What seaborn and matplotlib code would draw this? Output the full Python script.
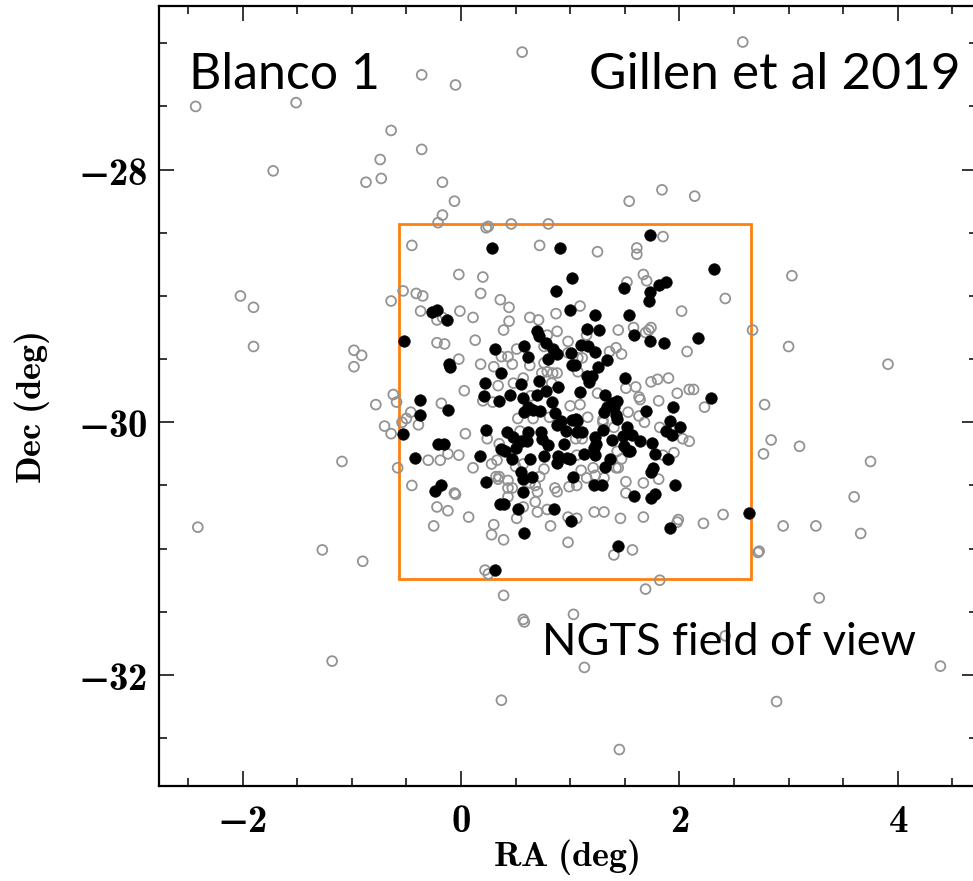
import matplotlib
matplotlib.use("Agg")
import matplotlib.pyplot as plt
from matplotlib.patches import Rectangle
from matplotlib.ticker import MultipleLocator, FuncFormatter
import seaborn as sns

# Field stars around Blanco 1 (open grey circles): RA offset and Dec in degrees
field_ra = [
    0.56, -0.36, -0.05, -2.43, -1.51, -0.64, -0.36, -0.74, -1.72, -0.87, -0.73, -0.17, -0.06, -0.17, -0.21,
    0.25, 0.23, 0.46, 0.80, 2.58, 1.54, 1.84, 2.14,
    -2.02, -1.90, -1.90, -0.53, -0.64, -0.98, -0.91, -0.98, -0.62, -0.59, -0.78, -0.50, -0.54, -0.70, -0.64,
    -1.09, -0.58, -2.41, -1.27, -0.90,
    -0.46, -0.39, -0.18, 0.20, 0.29, 0.04, 0.24, 0.52, 0.54, 0.66, 1.00, 0.81, -0.30, -0.19, -0.12, -0.02,
    0.11, 0.28, 0.33, 0.35, 0.50, 0.57, 0.32, 0.35, 0.34, 0.43, 0.47, 0.43, 0.43, 0.58, 0.63, 0.68, 0.72,
    0.76, 0.70, 0.86, 0.88, 0.99, -0.45, -0.06, -0.05, -0.22, -0.12, 0.07, -0.25, 0.30, 0.28, 0.39, 0.51,
    0.57, 0.68, 0.70, 0.79, 0.82, 0.98, 0.98, 0.22, 0.25,
    -0.45, 0.72, -0.02, 0.20, -0.41, -0.35, 0.18, 0.36, 0.44, -0.37, -0.17, -0.22, -0.01, 0.11, 0.44, 0.39,
    0.63, 0.71, 0.87, 0.88, 0.79, -0.22, -0.15, 0.13, -0.02, 0.18, 0.30, 0.37, 0.43, 0.51, 0.47, 0.63, 0.76,
    0.98, 0.98, 0.74, 0.79, 0.84, 0.88, 0.76, 0.34, 0.48, 0.57, 0.03, 0.64, 0.83,
    1.85, 1.25, 1.61, 1.61, 1.67, 1.70, 1.52, 2.42, 2.02, 1.09, 1.44, 1.58, 1.69, 1.72, 1.74, 2.67, 1.15,
    1.42, 1.47, 2.07, 1.36, 1.11, 1.07, 1.07, 1.74, 1.80, 1.90, 1.60, 1.51, 1.25, 1.98, 2.09, 2.13, 1.63, 1.81,
    1.09, 1.16, 1.30, 1.30, 1.40, 1.53, 1.63, 1.68, 1.64, 2.23, 1.82, 2.03, 2.09, 1.95, 1.85, 1.43, 1.47,
    1.42, 1.44, 1.05, 1.11, 1.06, 1.21, 1.23, 1.31, 1.15, 1.10, 1.06, 1.51, 1.67, 1.81, 1.51, 1.22, 1.31,
    1.06, 1.46, 1.67, 1.99, 1.98, 2.22, 2.40, 1.57, 1.40, 1.82,
    3.03, 3.00, 3.91, 2.78, 2.84, 2.77, 3.10, 3.75, 3.60, 2.95, 3.25, 3.66, 2.73, 2.72,
    0.39, 0.57, 0.58, -1.18, 0.37, 1.69, 3.28, 1.03, 2.42, 1.13, 4.39, 2.89, 1.45,
]
field_dec = [
    -27.07, -27.25, -27.33, -27.50, -27.47, -27.69, -27.84, -27.92, -28.01, -28.10, -28.07, -28.10, -28.25,
    -28.36, -28.42, -28.45, -28.46, -28.43, -28.43, -26.99, -28.25, -28.16, -28.21,
    -29.00, -29.09, -29.40, -28.96, -29.04, -29.43, -29.47, -29.56, -29.78, -29.84, -29.86, -29.97, -30.00,
    -30.03, -30.09, -30.31, -30.36, -30.83, -31.01, -31.10,
    -29.92, -30.02, -29.85, -29.83, -29.84, -30.09, -30.13, -29.97, -30.07, -29.97, -29.87, -29.96, -30.30,
    -30.30, -30.25, -30.26, -30.36, -30.33, -30.30, -30.17, -30.35, -30.33, -30.43, -30.43, -30.45, -30.46,
    -30.52, -30.52, -30.59, -30.45, -30.48, -30.50, -30.43, -30.37, -30.55, -30.52, -30.55, -30.51, -30.50,
    -30.56, -30.57, -30.67, -30.70, -30.75, -30.82, -30.81, -30.89, -30.93, -30.76, -30.67, -30.63, -30.71,
    -30.69, -30.82, -30.75, -30.95, -31.17, -31.20,
    -28.60, -28.60, -28.83, -28.85, -28.98, -29.00, -28.98, -29.03, -29.09, -29.12, -29.17, -29.19, -29.12,
    -29.17, -29.20, -29.27, -29.17, -29.19, -29.14, -29.28, -29.31, -29.37, -29.38, -29.35, -29.50, -29.54,
    -29.56, -29.48, -29.48, -29.42, -29.54, -29.55, -29.40, -29.36, -29.45, -29.61, -29.60, -29.61, -29.61,
    -29.53, -29.71, -29.69, -29.65, -29.75, -29.79, -29.69,
    -28.53, -28.65, -28.62, -28.67, -28.83, -28.88, -28.89, -29.02, -29.12, -29.08, -29.27, -29.25, -29.29,
    -29.27, -29.25, -29.27, -29.31, -29.41, -29.46, -29.44, -29.44, -29.49, -29.49, -29.60, -29.68, -29.66,
    -29.65, -29.72, -29.73, -29.77, -29.77, -29.74, -29.74, -29.80, -29.83,
    -29.86, -29.96, -29.98, -30.00, -30.04, -29.92, -29.95, -30.00, -29.82, -29.88, -30.04, -30.13, -30.15,
    -30.24, -30.26, -30.23, -30.29, -30.36, -30.36, -30.13, -30.13, -30.26, -30.36, -30.42, -30.44, -30.44,
    -30.38, -30.50, -30.47, -30.48, -30.45, -30.56, -30.71, -30.71, -30.76, -30.76, -30.75, -30.77, -30.79,
    -30.80, -30.73, -31.01, -31.05, -31.25,
    -28.84, -29.40, -29.54, -29.86, -30.14, -30.25, -30.19, -30.31, -30.59, -30.82, -30.82, -30.88, -31.02,
    -31.03,
    -31.37, -31.56, -31.58, -31.89, -32.20, -31.32, -31.39, -31.52, -31.69, -31.94, -31.93, -32.21, -32.59,
]

# Cluster members (filled black points)
member_ra = [
    -0.52, -0.53, 2.64, 0.28, 0.91, 1.02, 0.87, 1.00, -0.27, -0.22, -0.13, 0.70, 0.71, 0.78, 0.31, 0.58,
    0.61, 0.80, 0.84, 0.88, 1.01, 1.02, -0.11, -0.10, 0.37, 0.22, 0.55, 0.71, 0.89, 0.70, 0.78, 0.45, 0.21,
    0.57, 0.35, -0.38,
    1.73, 2.32, 1.49, 1.81, 1.88, 1.73, 1.72, 1.23, 1.54, 1.15, 1.26, 1.58, 1.73, 1.86, 2.17, 1.10, 1.16,
    1.23, 1.34, 1.04, 1.25, 1.15, 1.20, 1.17, 1.50, 1.09, 1.32, 2.29, 1.43,
    -0.38, -0.12, -0.21, -0.16, -0.42, 0.17, 0.23, 0.42, 0.48, 0.37, 0.40, 0.50, 0.47, 0.56, 0.61, 0.60,
    0.58, 0.61, 0.66, 0.72, 0.63, 0.73, 0.74, 0.80, 0.76, 0.86, 0.88, 0.92, 0.83, 0.96, 0.94, 1.02, 0.89,
    0.88, 0.97, 1.00, 0.55, 0.57, 0.65, 0.23, -0.24, -0.18, 0.57, 0.36, 0.39, 0.52, 0.85, 1.01, 0.58, 1.03,
    0.31,
    1.38, 1.40, 1.34, 1.31, 1.42, 1.43, 1.69, 1.94, 1.05, 1.06, 1.11, 1.06, 1.30, 1.23, 1.24, 1.22, 1.38,
    1.48, 1.52, 1.57, 1.64, 1.75, 1.49, 1.53, 1.55, 1.13, 1.23, 1.78, 1.91, 2.01, 1.88, 1.93, 1.90, 1.36,
    1.32, 1.76, 1.74, 1.22, 1.29, 1.58, 1.78, 1.74, 1.96, 1.91, 1.44,
]
member_dec = [
    -29.36, -30.09, -30.72, -28.62, -28.62, -28.86, -28.96, -29.11, -29.13, -29.11, -29.19, -29.28, -29.32,
    -29.37, -29.42, -29.40, -29.48, -29.50, -29.42, -29.46, -29.45, -29.55, -29.54, -29.56, -29.61, -29.69,
    -29.70, -29.67, -29.72, -29.78, -29.75, -29.78, -29.79, -29.81, -29.83, -29.82,
    -28.52, -28.79, -28.94, -28.91, -28.89, -28.97, -29.04, -29.15, -29.15, -29.26, -29.27, -29.31, -29.36,
    -29.37, -29.33, -29.39, -29.40, -29.44, -29.51, -29.55, -29.56, -29.63, -29.63, -29.68, -29.65, -29.76,
    -29.78, -29.81, -29.83,
    -29.94, -29.90, -30.17, -30.17, -30.28, -30.27, -30.06, -30.08, -30.12, -30.21, -30.23, -30.20, -30.29,
    -30.15, -30.08, -30.15, -29.92, -29.88, -29.90, -29.91, -30.29, -30.08, -30.13, -30.18, -30.27, -29.93,
    -30.02, -29.99, -29.84, -30.07, -30.17, -29.98, -30.27, -30.32, -30.28, -30.29, -30.39, -30.45, -30.43,
    -30.47, -30.54, -30.50, -30.55, -30.65, -30.65, -30.69, -30.69, -30.78, -30.88, -30.43, -31.17,
    -29.85, -29.88, -29.88, -29.92, -29.94, -29.97, -29.91, -29.88, -29.97, -29.99, -30.08, -30.08, -30.06,
    -30.12, -30.17, -30.20, -30.14, -30.11, -30.04, -30.10, -30.15, -30.16, -30.19, -30.23, -30.23, -30.25,
    -30.26, -30.25, -29.99, -30.04, -30.07, -30.10, -30.29, -30.29, -30.35, -30.36, -30.39, -30.50, -30.50,
    -30.58, -30.57, -30.60, -30.50, -30.84, -30.98,
]

# NGTS field of view footprint (RA and Dec limits, degrees)
fov_ra = [-0.57, 2.66]
fov_dec = [-31.24, -28.43]

ra_limits = [-2.77, 4.725]
dec_limits = [-32.876, -26.705]

sns.set_style("ticks")
plt.rcParams.update({
    # bold Computer Modern for all math text; bold STIX supplies the minus sign
    "mathtext.fontset": "custom",
    "mathtext.rm": "cmb10",
    "mathtext.bf": "cmb10",
    "mathtext.it": "cmb10",
    "mathtext.default": "bf",
    "mathtext.fallback": "stix",
    "axes.linewidth": 1.6,
    "axes.edgecolor": "black",
    "text.color": "black",
    "axes.labelcolor": "black",
    "xtick.color": "black",
    "ytick.color": "black",
})

fig = plt.figure(figsize=(9.73, 8.81), dpi=100)
ax = fig.add_axes([0.1629, 0.1082, 0.8412, 0.8850])

ax.add_patch(Rectangle((fov_ra[0], fov_dec[0]), fov_ra[1] - fov_ra[0], fov_dec[1] - fov_dec[0],
                       fill=False, edgecolor="#ff7f0e", linewidth=2.0, zorder=2))

sns.scatterplot(x=field_ra, y=field_dec, ax=ax, s=50, marker="o", facecolor="none",
                edgecolor="#939393", color="#939393", linewidth=1.3, zorder=3)
sns.scatterplot(x=member_ra, y=member_dec, ax=ax, s=72, marker="o", color="black",
                edgecolor="black", linewidth=0.3, zorder=4)

ax.set_xlim(*ra_limits)
ax.set_ylim(*dec_limits)

ax.xaxis.set_major_locator(MultipleLocator(2))
ax.xaxis.set_minor_locator(MultipleLocator(0.5))
ax.yaxis.set_major_locator(MultipleLocator(2))
ax.yaxis.set_minor_locator(MultipleLocator(0.5))
fmt = FuncFormatter(lambda v, p: r"$%d$" % round(v))
ax.xaxis.set_major_formatter(fmt)
ax.yaxis.set_major_formatter(fmt)

ax.tick_params(which="both", direction="in", top=True, right=True, width=1.1, color="black")
ax.tick_params(which="major", length=10.5, labelsize=28)
ax.tick_params(which="minor", length=5.5)
ax.tick_params(axis="x", which="major", pad=12)
ax.tick_params(axis="y", which="major", pad=8)

ax.set_xlabel(r"$\mathrm{RA\ (deg)}$", fontsize=26)
ax.set_ylabel(r"$\mathrm{Dec\ (deg)}$", fontsize=26)
ax.xaxis.set_label_coords(0.4985, -0.066)
ax.yaxis.set_label_coords(-0.1305, 0.485)

label_font = ["Lato", "DejaVu Sans"]
fig.text(0.194, 0.899, "Blanco 1", family=label_font, fontsize=36, ha="left", va="baseline")
fig.text(0.987, 0.899, "Gillen et al 2019", family=label_font, fontsize=37, ha="right", va="baseline")
fig.text(0.557, 0.257, "NGTS field of view", family=label_font, fontsize=32.5, ha="left", va="baseline",
         zorder=5)

fig.savefig("out.png", dpi=100)
